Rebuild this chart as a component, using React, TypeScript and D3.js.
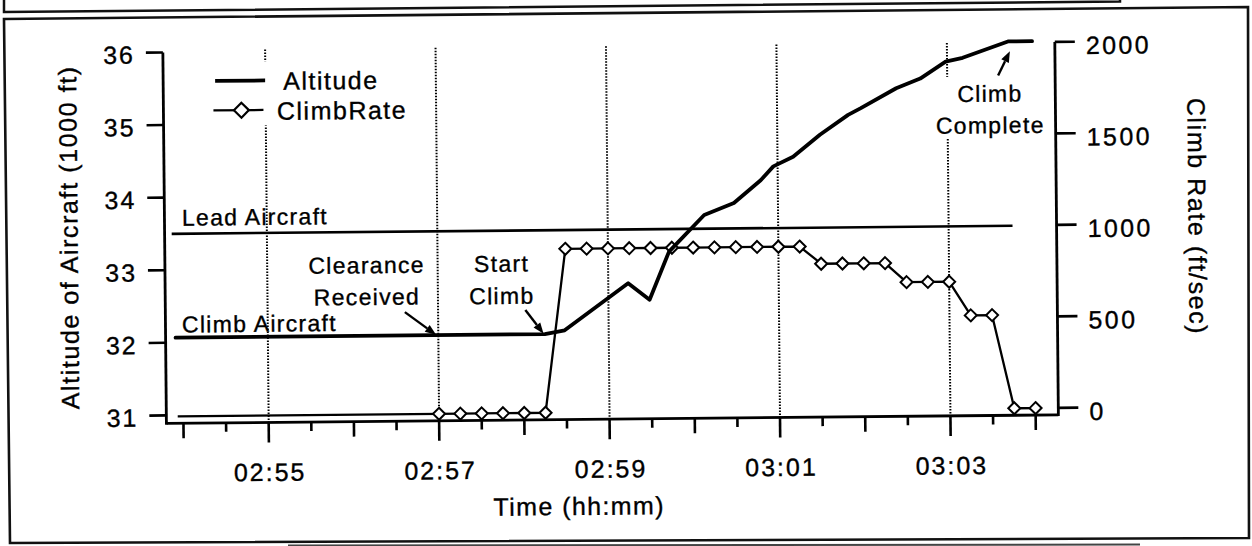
import React from "react";
import * as d3 from "d3";

// ---------- data ----------
const altitudeTimes = [
  "02:53:55", "02:58:15", "02:58:29", "02:59:14", "02:59:29", "02:59:43",
  "03:00:08", "03:00:29", "03:00:48", "03:00:57", "03:01:11", "03:01:30",
  "03:01:50", "03:01:59", "03:02:24", "03:02:41", "03:02:59", "03:03:11",
  "03:03:43", "03:04:00",
];
const altitudeValues = [
  32.07, 32.07, 32.12, 32.76, 32.53, 33.19,
  33.69, 33.85, 34.16, 34.35, 34.48, 34.78,
  35.05, 35.14, 35.41, 35.54, 35.77, 35.82,
  36.04, 36.04,
];

// unmarked start of the ClimbRate trace
const climbRateLeadTime = "02:53:56";
const climbRateLeadValue = 0;
// marked ClimbRate samples (every 15 s)
const climbRateTimes = [
  "02:57:00", "02:57:15", "02:57:30", "02:57:45", "02:58:00", "02:58:15",
  "02:58:30", "02:58:45", "02:59:00", "02:59:15", "02:59:30", "02:59:45",
  "03:00:00", "03:00:15", "03:00:30", "03:00:45", "03:01:00", "03:01:15",
  "03:01:30", "03:01:45", "03:02:00", "03:02:15",
  "03:02:30", "03:02:45", "03:03:00",
  "03:03:15", "03:03:30",
  "03:03:45", "03:04:00",
];
const climbRateValues = [
  0, 0, 0, 0, 0, 0,
  895, 895, 895, 895, 895, 895,
  895, 895, 895, 895, 895, 895,
  800, 800, 800, 800,
  695, 695, 695,
  510, 510,
  0, 0,
];

const leadAircraftTimes = ["02:53:53", "03:03:45"];
const leadAircraftValue = 33.5;

const leftTicks = [31, 32, 33, 34, 35, 36];
const rightTicks = [0, 500, 1000, 1500, 2000];
const xTickLabels = ["02:55", "02:57", "02:59", "03:01", "03:03"];

const annotations = [
  { lines: ["Clearance", "Received"], at: "02:56:10", y: [270.8, 302.5] },
  { lines: ["Start", "Climb"], at: "02:57:45", y: [270.5, 302.8] },
  { lines: ["Climb", "Complete"], at: "03:03:30", y: [105.2, 136.8] },
];

// ---------- component ----------
const FONT = "'Liberation Sans', Arial, Helvetica, sans-serif";
const parseT = d3.timeParse("%H:%M:%S");
const fmtHM = d3.timeFormat("%H:%M");

function Arrow({ x1, y1, x2, y2 }: { x1: number; y1: number; x2: number; y2: number }) {
  const ang = Math.atan2(y2 - y1, x2 - x1);
  const L = 11;
  const W = 4.2;
  const bx = x2 - L * Math.cos(ang);
  const by = y2 - L * Math.sin(ang);
  const px = -Math.sin(ang) * W;
  const py = Math.cos(ang) * W;
  return (
    <g>
      <line x1={x1} y1={y1} x2={bx} y2={by} stroke="#000" strokeWidth={2.4} />
      <polygon points={`${x2},${y2} ${bx + px},${by + py} ${bx - px},${by - py}`} fill="#000" />
    </g>
  );
}

export default function App() {
  const x = d3
    .scaleTime()
    .domain([parseT("02:53:48") as Date, parseT("03:04:16") as Date])
    .range([165, 1057]);
  const yAlt = d3.scaleLinear().domain([31, 36]).range([411, 48]);
  const yRate = d3.scaleLinear().domain([0, 2000]).range([412, 46]);

  const axisY = 419;
  const left = 165;
  const right = 1057;

  const altPts: [Date, number][] = altitudeTimes.map((t, i) => [parseT(t) as Date, altitudeValues[i]]);
  const ratePts: [Date, number][] = climbRateTimes.map((t, i) => [parseT(t) as Date, climbRateValues[i]]);
  const rateLine: [Date, number][] = [[parseT(climbRateLeadTime) as Date, climbRateLeadValue], ...ratePts];

  const altPath = d3
    .line<[Date, number]>()
    .x((d) => x(d[0]))
    .y((d) => yAlt(d[1]))(altPts) as string;
  const ratePath = d3
    .line<[Date, number]>()
    .x((d) => x(d[0]))
    .y((d) => yRate(d[1]))(rateLine) as string;

  const xTicks = x.ticks(d3.timeSecond.every(30) as any);

  const diamond = (cx: number, cy: number, r: number) =>
    `M${cx},${cy - r}L${cx + r},${cy}L${cx},${cy + r}L${cx - r},${cy}Z`;

  const leadX1 = x(parseT(leadAircraftTimes[0]) as Date);
  const leadX2 = x(parseT(leadAircraftTimes[1]) as Date);

  const txt = { stroke: "#000", strokeWidth: 0.35 } as const;

  return (
    <svg
      width={1252}
      height={546}
      style={{ position: "absolute", left: 0, top: 0, background: "#fff" }}
      fontFamily={FONT}
    >
      <rect x={0} y={0} width={1252} height={546} fill="#fff" />
      {/* scanned page frame pieces */}
      <polyline points="4,0 4,12 1120,1.5 1120,0" fill="none" stroke="#111" strokeWidth={2.5} />
      <polygon points="4,19 1248,7 1249,538 10,543" fill="none" stroke="#111" strokeWidth={2.6} />
      <line x1={288} y1={545.5} x2={1140} y2={544.5} stroke="#444" strokeWidth={2} />

      <g transform="rotate(-0.55 626 273)">
        {/* dotted grid lines */}
        {xTicks
          .filter((d) => d.getSeconds() === 0 && xTickLabels.includes(fmtHM(d)))
          .map((d, i) => (
            <line
              key={"g" + i}
              x1={x(d)}
              x2={x(d)}
              y1={46}
              y2={axisY}
              stroke="#000"
              strokeWidth={2}
              strokeDasharray="1.5 1.5"
            />
          ))}

        {/* white boxes behind legend and "Climb Complete" */}
        <rect x={205} y={58} width={200} height={64} fill="#fff" />
        <rect x={935} y={80} width={110} height={62} fill="#fff" />

        {/* axes */}
        <line x1={left} y1={yAlt(36)} x2={left} y2={axisY + 1.2} stroke="#000" strokeWidth={2.8} />
        <line x1={right} y1={yRate(2000)} x2={right} y2={axisY + 1.2} stroke="#000" strokeWidth={2.8} />
        <line x1={left} y1={axisY} x2={right} y2={axisY} stroke="#000" strokeWidth={2.8} />

        {leftTicks.map((v) => (
          <g key={"l" + v}>
            <line x1={148} x2={left} y1={yAlt(v)} y2={yAlt(v)} stroke="#000" strokeWidth={2.6} />
            <text x={137} y={yAlt(v) + 11} textAnchor="end" fontSize={25} letterSpacing={2} {...txt}>
              {v}
            </text>
          </g>
        ))}
        {rightTicks.map((v) => (
          <g key={"r" + v}>
            <line x1={right} x2={1077} y1={yRate(v)} y2={yRate(v)} stroke="#000" strokeWidth={2.6} />
            <text x={1088} y={yRate(v) + 12.5} textAnchor="start" fontSize={25} letterSpacing={2.4} {...txt}>
              {v}
            </text>
          </g>
        ))}
        {xTicks.map((d, i) => {
          const lab = d.getSeconds() === 0 && xTickLabels.includes(fmtHM(d));
          const len = lab ? 20 : d.getSeconds() === 0 ? 15 : 9;
          return (
            <g key={"x" + i}>
              <line x1={x(d)} x2={x(d)} y1={axisY} y2={axisY + len} stroke="#000" strokeWidth={2.6} />
              {lab && (
                <text x={x(d) + 1} y={477.5} textAnchor="middle" fontSize={25} letterSpacing={2} {...txt}>
                  {fmtHM(d)}
                </text>
              )}
            </g>
          );
        })}

        {/* axis titles */}
        <text transform="translate(78,232) rotate(-90)" textAnchor="middle" fontSize={25} letterSpacing={1.6} {...txt}>
          Altitude of Aircraft (1000 ft)
        </text>
        <text transform="translate(1189,222) rotate(90)" textAnchor="middle" fontSize={25} letterSpacing={1.6} {...txt}>
          Climb Rate (ft/sec)
        </text>
        <text x={577} y={514.5} textAnchor="middle" fontSize={25} letterSpacing={1.4} {...txt}>
          Time (hh:mm)
        </text>

        {/* lead aircraft */}
        <line
          x1={leadX1}
          x2={leadX2}
          y1={yAlt(leadAircraftValue)}
          y2={yAlt(leadAircraftValue)}
          stroke="#000"
          strokeWidth={2.6}
        />

        {/* climb rate */}
        <path d={ratePath} fill="none" stroke="#000" strokeWidth={2.3} strokeLinejoin="round" />
        {ratePts.map((d, i) => (
          <path
            key={"m" + i}
            d={diamond(x(d[0]), yRate(d[1]), 6)}
            fill="#fff"
            stroke="#000"
            strokeWidth={2}
          />
        ))}

        {/* altitude */}
        <path d={altPath} fill="none" stroke="#000" strokeWidth={3.8} strokeLinejoin="round" strokeLinecap="round" />

        {/* legend */}
        <line x1={217} x2={267} y1={77} y2={77} stroke="#000" strokeWidth={3.8} />
        <text x={285} y={86.5} fontSize={25} letterSpacing={1.5} {...txt}>
          Altitude
        </text>
        <line x1={215} x2={265} y1={106.5} y2={106.5} stroke="#000" strokeWidth={2.3} />
        <path d={diamond(243, 106.5, 7.5)} fill="#fff" stroke="#000" strokeWidth={2.2} />
        <text x={278.5} y={116.5} fontSize={25} letterSpacing={1.5} {...txt}>
          ClimbRate
        </text>

        {/* annotations */}
        <text x={182.5} y={221.4} fontSize={23} letterSpacing={1.3} {...txt}>
          Lead Aircraft
        </text>
        <text x={181.5} y={328.2} fontSize={23} letterSpacing={1.3} {...txt}>
          Climb Aircraft
        </text>
        {annotations.map((a, i) => (
          <g key={"a" + i}>
            {a.lines.map((s, j) => (
              <text
                key={j}
                x={x(parseT(a.at) as Date)}
                y={a.y[j]}
                textAnchor="middle"
                fontSize={23}
                letterSpacing={1.3}
                {...txt}
              >
                {s}
              </text>
            ))}
          </g>
        ))}
        <Arrow x1={404.5} y1={310} x2={435.5} y2={333} />
        <Arrow x1={525} y1={309} x2={543} y2={333} />
        <Arrow x1={1000} y1={79} x2={1012} y2={55} />
      </g>
    </svg>
  );
}
